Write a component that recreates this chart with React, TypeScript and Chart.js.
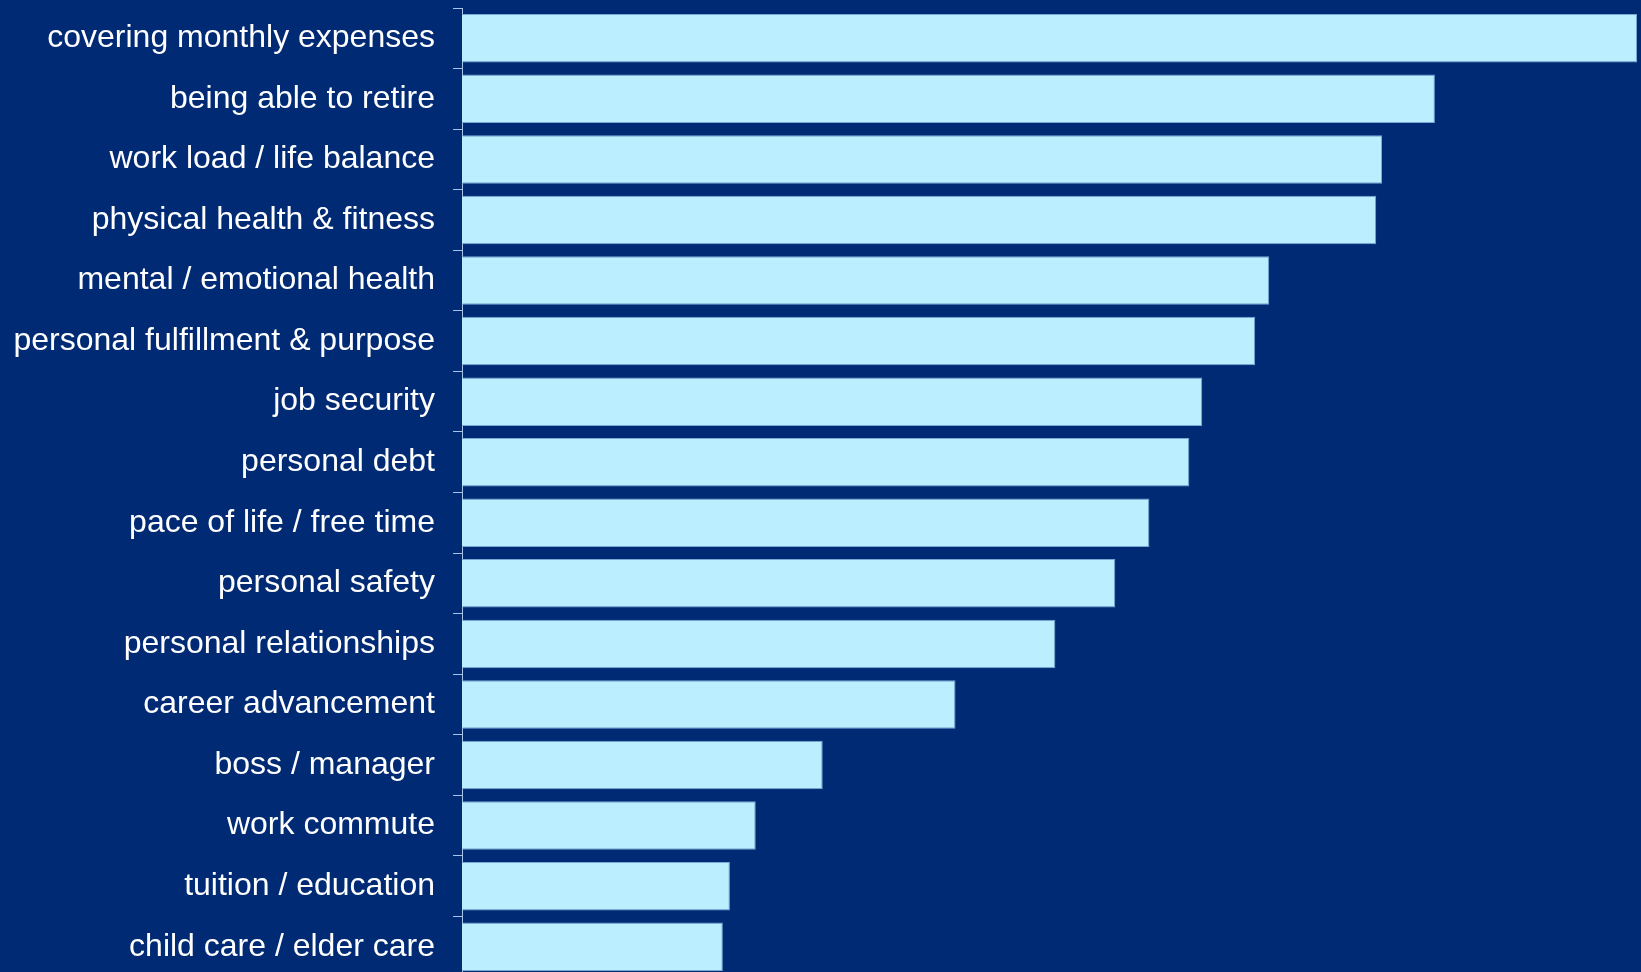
import React, { useEffect, useRef } from "react";
import { Chart, registerables } from "chart.js";

Chart.register(...registerables);

const categories = [
  "covering monthly expenses",
  "being able to retire",
  "work load / life balance",
  "physical health & fitness",
  "mental / emotional health",
  "personal fulfillment & purpose",
  "job security",
  "personal debt",
  "pace of life / free time",
  "personal safety",
  "personal relationships",
  "career advancement",
  "boss / manager",
  "work commute",
  "tuition / education",
  "child care / elder care",
];

const values = [100, 82.8, 78.3, 77.8, 68.7, 67.5, 63.0, 61.9, 58.5, 55.6, 50.5, 42.0, 30.7, 25.0, 22.8, 22.2];

const BG = "#012A74";
const BAR = "#BBEEFF";
const BAR_EDGE = "#7AA6D6";
const AXIS = "#A9C4EA";

export default function App() {
  const ref = useRef<HTMLCanvasElement | null>(null);

  useEffect(() => {
    if (!ref.current) return;
    const chart = new Chart(ref.current, {
      type: "bar",
      data: {
        labels: categories,
        datasets: [
          {
            data: values,
            backgroundColor: BAR,
            borderColor: BAR_EDGE,
            borderWidth: 1,
            barPercentage: 0.8,
            categoryPercentage: 1,
          },
        ],
      },
      options: {
        indexAxis: "y",
        responsive: false,
        animation: false,
        devicePixelRatio: 1,
        layout: { padding: { top: 8, bottom: 3, left: 0, right: 4 } },
        plugins: { legend: { display: false }, tooltip: { enabled: false } },
        scales: {
          x: { display: false, min: 0, max: 100 },
          y: {
            grid: { display: true, drawOnChartArea: false, tickLength: 9, color: AXIS, offset: true },
            border: { display: true, color: AXIS, width: 1 },
            ticks: {
              color: "#FFFFFF",
              padding: 18,
              font: { family: "'Liberation Sans', Arial, sans-serif", size: 32 },
              autoSkip: false,
            },
            afterFit: (scale: any) => {
              scale.width = 462;
              scale.paddingTop = 0;
              scale.paddingBottom = 0;
            },
          },
        },
      },
    });
    return () => chart.destroy();
  }, []);

  return (
    <div style={{ position: "fixed", inset: 0, background: BG, overflow: "hidden" }}>
      <canvas ref={ref} width={1641} height={980} style={{ position: "absolute", left: 0, top: 0, width: 1641, height: 980 }} />
    </div>
  );
}
